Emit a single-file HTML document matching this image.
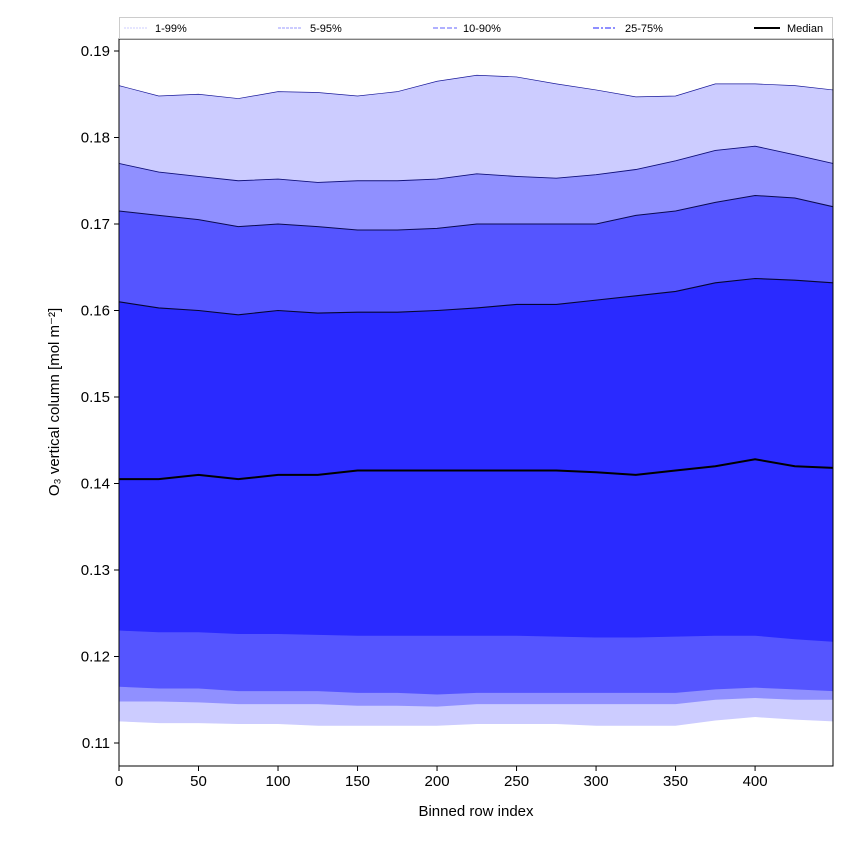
<!DOCTYPE html>
<html><head><meta charset="utf-8"><style>
body{margin:0;background:#fff;width:850px;height:850px;overflow:hidden}
svg{font-family:"Liberation Sans","DejaVu Sans",sans-serif}
</style></head><body>
<svg id="c" width="850" height="850"></svg>
<script>
const xs   =[0,25,50,75,100,125,150,175,200,225,250,275,300,325,350,375,400,425,449];
const p99  =[0.1860,0.1848,0.1850,0.1845,0.1853,0.1852,0.1848,0.1853,0.1865,0.1872,0.1870,0.1862,0.1855,0.1847,0.1848,0.1862,0.1862,0.1860,0.1855];
const p95  =[0.1770,0.1760,0.1755,0.1750,0.1752,0.1748,0.1750,0.1750,0.1752,0.1758,0.1755,0.1753,0.1757,0.1763,0.1773,0.1785,0.1790,0.1780,0.1770];
const p90  =[0.1715,0.1710,0.1705,0.1697,0.1700,0.1697,0.1693,0.1693,0.1695,0.1700,0.1700,0.1700,0.1700,0.1710,0.1715,0.1725,0.1733,0.1730,0.1720];
const p75  =[0.1610,0.1603,0.1600,0.1595,0.1600,0.1597,0.1598,0.1598,0.1600,0.1603,0.1607,0.1607,0.1612,0.1617,0.1622,0.1632,0.1637,0.1635,0.1632];
const med  =[0.1405,0.1405,0.1410,0.1405,0.1410,0.1410,0.1415,0.1415,0.1415,0.1415,0.1415,0.1415,0.1413,0.1410,0.1415,0.1420,0.1428,0.1420,0.1418];
const p25  =[0.1230,0.1228,0.1228,0.1226,0.1226,0.1225,0.1224,0.1224,0.1224,0.1224,0.1224,0.1223,0.1222,0.1222,0.1223,0.1224,0.1224,0.1220,0.1217];
const p10  =[0.1165,0.1163,0.1163,0.1160,0.1160,0.1160,0.1158,0.1158,0.1156,0.1158,0.1158,0.1158,0.1158,0.1158,0.1158,0.1162,0.1164,0.1162,0.1160];
const p5   =[0.1148,0.1148,0.1147,0.1145,0.1145,0.1145,0.1143,0.1143,0.1142,0.1145,0.1145,0.1145,0.1145,0.1145,0.1145,0.1150,0.1152,0.1150,0.1150];
const p1   =[0.1125,0.1123,0.1123,0.1122,0.1122,0.1120,0.1120,0.1120,0.1120,0.1122,0.1122,0.1122,0.1120,0.1120,0.1120,0.1126,0.1130,0.1127,0.1125];
const xTicks=[0,50,100,150,200,250,300,350,400];
const yTicks=[0.11,0.12,0.13,0.14,0.15,0.16,0.17,0.18,0.19];
const yLabels=["0.11","0.12","0.13","0.14","0.15","0.16","0.17","0.18","0.19"];

const L=119,R=833,T=39,B=766;
const X=v=>L+(v-0)*(R-L)/449;
const Y=v=>743-(v-0.11)*8650;
const NS="http://www.w3.org/2000/svg";
const svg=document.getElementById('c');
function mk(t,a,p){const e=document.createElementNS(NS,t);for(const k in a)e.setAttribute(k,a[k]);(p||svg).appendChild(e);return e;}
const clip=mk('clipPath',{id:'pc'});mk('rect',{x:L,y:T,width:R-L,height:B-T},clip);
const g=mk('g',{'clip-path':'url(#pc)'});
function band(up,lo,fill,name){
  let d='M'+xs.map((x,i)=>X(x)+','+Y(up[i])).join('L');
  for(let i=xs.length-1;i>=0;i--)d+='L'+X(xs[i])+','+Y(lo[i]);
  const e=mk('path',{d:d+'Z',fill:fill},g);
  
  
}
function line(arr,stroke,w,name){
  const e=mk('path',{d:'M'+xs.map((x,i)=>X(x)+','+Y(arr[i])).join('L'),fill:'none',stroke:stroke,'stroke-width':w},g);
  
  
}
band(p99,p1,'#ccccff','band-1-99');
band(p95,p5,'#9090ff','band-5-95');
band(p90,p10,'#5555ff','band-10-90');
band(p75,p25,'#2a2aff','band-25-75');
line(p99,'#1a1a9a',0.7,'line-p99');
line(p95,'#10107a',0.9,'line-p95');
line(p90,'#0a0a50',1,'line-p90');
line(p75,'#050530',1.1,'line-p75');
line(med,'#000',2,'median-line');
mk('rect',{x:L,y:T,width:R-L,height:B-T,fill:'none',stroke:'#000','stroke-width':1});
xTicks.forEach(v=>{
  mk('line',{x1:X(v),x2:X(v),y1:B,y2:B+5,stroke:'#000'});
  const t=mk('text',{x:X(v),y:B+20,'text-anchor':'middle','font-size':'15'});t.textContent=v;
  
  
});
yTicks.forEach((v,i)=>{
  mk('line',{x1:L-5,x2:L,y1:Y(v),y2:Y(v),stroke:'#000'});
  const t=mk('text',{x:L-9,y:Y(v)+5,'text-anchor':'end','font-size':'15'});t.textContent=yLabels[i];
  
  
});
</script>
<svg width="850" height="850" style="position:absolute;left:0;top:0" font-family="Liberation Sans, DejaVu Sans, sans-serif">
  <text x="476" y="816" text-anchor="middle" font-size="15">Binned row index</text>
  <text transform="translate(59,402) rotate(-90)" text-anchor="middle" font-size="15">O₃ vertical column [mol m⁻²]</text>
  <g>
    <rect x="119.5" y="17.5" width="713" height="21" fill="#fff" stroke="#ccc"/>
    <line x1="124" x2="148" y1="28" y2="28" stroke="#ccccff" stroke-dasharray="2,1"/>
    <text x="155" y="32" font-size="11">1-99%</text>
    <line x1="278" x2="302" y1="28" y2="28" stroke="#9a9aff" stroke-dasharray="3,1"/>
    <text x="310" y="32" font-size="11">5-95%</text>
    <line x1="433" x2="457" y1="28" y2="28" stroke="#8080ff" stroke-width="1.3" stroke-dasharray="5,2"/>
    <text x="463" y="32" font-size="11">10-90%</text>
    <line x1="593" x2="617" y1="28" y2="28" stroke="#6a6aff" stroke-width="1.6" stroke-dasharray="6,2,2,2"/>
    <text x="625" y="32" font-size="11">25-75%</text>
    <line x1="754" x2="780" y1="28" y2="28" stroke="#000" stroke-width="2"/>
    <text x="787" y="32" font-size="11">Median</text>
  </g>
</svg>
</body></html>
